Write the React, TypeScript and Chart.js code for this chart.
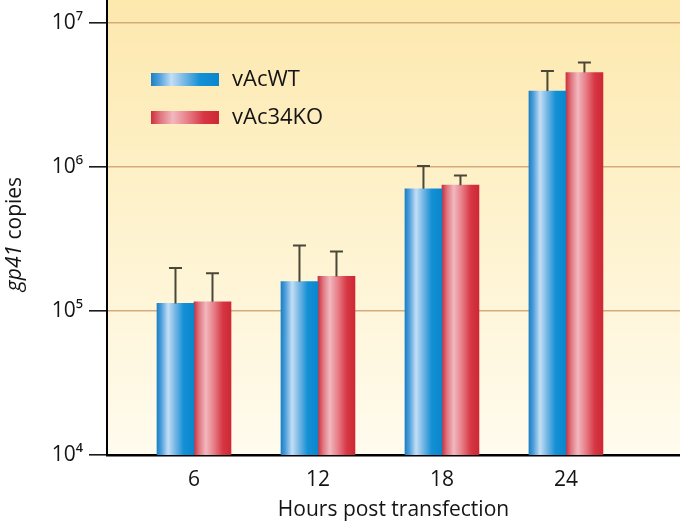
import React, { useEffect, useRef } from "react";
import { Chart, registerables } from "chart.js";

Chart.register(...registerables);

const hours = [6, 12, 18, 24];
const seriesLabels = ["vAcWT", "vAc34KO"];
const wtMean = [1.13e5, 1.6e5, 7.07e5, 3.38e6];
const wtUpper = [1.99e5, 2.86e5, 1.02e6, 4.65e6];
const koMean = [1.16e5, 1.74e5, 7.5e5, 4.54e6];
const koUpper = [1.83e5, 2.59e5, 8.74e5, 5.33e6];
const yTickValues = [1e4, 1e5, 1e6, 1e7];
const xTitle = "Hours post transfection";
const yTitleItalic = "gp41";
const yTitleRest = " copies";

const FONT = "'Open Sans', 'Noto Sans', sans-serif";
const BAR_W = 37;
const SUP: Record<string, string> = { "4": "\u2074", "5": "\u2075", "6": "\u2076", "7": "\u2077" };

const blueStops: [number, string][] = [
  [0, "#1b7fc5"],
  [0.12, "#4f9fdb"],
  [0.3, "#c3def5"],
  [0.5, "#72b5e4"],
  [0.72, "#1490d5"],
  [1, "#0a86cd"],
];
const redStops: [number, string][] = [
  [0, "#cf2e3b"],
  [0.14, "#df7680"],
  [0.32, "#f2b8be"],
  [0.52, "#e8838c"],
  [0.78, "#d73644"],
  [1, "#cd2834"],
];

function hGrad(ctx: CanvasRenderingContext2D, x0: number, w: number, stops: [number, string][]) {
  const g = ctx.createLinearGradient(x0, 0, x0 + w, 0);
  stops.forEach(([o, c]) => g.addColorStop(o, c));
  return g;
}

function barColor(stops: [number, string][], side: number) {
  return (c: any) => {
    if (c.type !== "data" || !c.chart.chartArea) return stops[2][1];
    const xs = c.chart.scales.x;
    const px = xs.getPixelForValue(c.raw.x);
    const left = side === 0 ? px - BAR_W : px;
    return hGrad(c.chart.ctx, left, BAR_W, stops);
  };
}

const bgPlugin = {
  id: "bgPlugin",
  beforeDraw(chart: any) {
    const { ctx, chartArea: a } = chart;
    const g = ctx.createLinearGradient(0, a.top, 0, a.bottom);
    g.addColorStop(0, "#fde8ad");
    g.addColorStop(0.5, "#fef3cf");
    g.addColorStop(1, "#fffbee");
    ctx.save();
    ctx.fillStyle = g;
    ctx.fillRect(a.left, a.top, a.right - a.left, a.bottom - a.top);
    ctx.restore();
  },
};

const errPlugin = {
  id: "errPlugin",
  afterDatasetsDraw(chart: any) {
    const { ctx } = chart;
    const ys = chart.scales.y;
    const uppers = [wtUpper, koUpper];
    ctx.save();
    ctx.strokeStyle = "#4a4739";
    ctx.lineWidth = 2;
    [0, 1].forEach((d) => {
      const meta = chart.getDatasetMeta(d);
      meta.data.forEach((el: any, i: number) => {
        const top = ys.getPixelForValue(uppers[d][i]);
        ctx.beginPath();
        ctx.moveTo(el.x, el.y);
        ctx.lineTo(el.x, top);
        ctx.moveTo(el.x - 6.5, top);
        ctx.lineTo(el.x + 6.5, top);
        ctx.stroke();
      });
    });
    ctx.restore();
  },
};

const legendPlugin = {
  id: "legendPlugin",
  afterDraw(chart: any) {
    const { ctx, chartArea: a } = chart;
    const x = a.left + 44;
    const rows = [
      { y: 73, stops: blueStops, label: seriesLabels[0] },
      { y: 111, stops: redStops, label: seriesLabels[1] },
    ];
    ctx.save();
    rows.forEach((r) => {
      ctx.fillStyle = hGrad(ctx, x, 68, r.stops);
      ctx.fillRect(x, r.y, 68, 13);
      ctx.fillStyle = "#141414";
      ctx.font = `22px ${FONT}`;
      ctx.textBaseline = "middle";
      ctx.textAlign = "left";
      ctx.fillText(r.label, x + 81, r.y + 6.5);
    });
    ctx.restore();
  },
};

const yTitlePlugin = {
  id: "yTitlePlugin",
  afterDraw(chart: any) {
    const { ctx, chartArea: a } = chart;
    ctx.save();
    ctx.translate(15, 234);
    ctx.rotate(-Math.PI / 2);
    ctx.textBaseline = "middle";
    ctx.textAlign = "left";
    ctx.fillStyle = "#141414";
    ctx.font = `italic 21px ${FONT}`;
    const w1 = ctx.measureText(yTitleItalic).width;
    ctx.font = `21px ${FONT}`;
    const w2 = ctx.measureText(yTitleRest).width;
    const start = -(w1 + w2) / 2;
    ctx.font = `italic 21px ${FONT}`;
    ctx.fillText(yTitleItalic, start, 0);
    ctx.font = `21px ${FONT}`;
    ctx.fillText(yTitleRest, start + w1, 0);
    ctx.restore();
  },
};

export default function App() {
  const ref = useRef<HTMLCanvasElement | null>(null);
  useEffect(() => {
    if (!ref.current) return;
    const chart = new Chart(ref.current, {
      type: "bar",
      data: {
        datasets: [
          {
            label: seriesLabels[0],
            data: hours.map((h, i) => ({ x: h, y: wtMean[i] })),
            backgroundColor: barColor(blueStops, 0),
            borderWidth: 0,
            barThickness: BAR_W,
          },
          {
            label: seriesLabels[1],
            data: hours.map((h, i) => ({ x: h, y: koMean[i] })),
            backgroundColor: barColor(redStops, 1),
            borderWidth: 0,
            barThickness: BAR_W,
          },
        ],
      },
      options: {
        animation: false,
        responsive: true,
        maintainAspectRatio: false,
        layout: { padding: { top: 0, right: 0, left: 0, bottom: 0 } },
        plugins: {
          legend: { display: false },
          tooltip: { enabled: false },
        },
        scales: {
          x: {
            type: "linear",
            offset: false,
            min: 1.79,
            max: 29.52,
            afterBuildTicks: (s: any) => {
              s.ticks = hours.map((v) => ({ value: v }));
            },
            afterFit: (s: any) => {
              s.height = 68;
              s.paddingLeft = 0;
              s.paddingRight = 0;
            },
            grid: { display: false, offset: false },
            border: { display: true, color: "#000", width: 2.5 },
            ticks: {
              padding: 4,
              color: "#141414",
              font: { family: FONT, size: 21 },
              autoSkip: false,
              maxRotation: 0,
            },
            title: {
              display: true,
              text: xTitle,
              color: "#141414",
              font: { family: FONT, size: 21 },
              padding: { top: 0, bottom: 0 },
            },
          },
          y: {
            type: "logarithmic",
            min: 1e4,
            max: 1.45e7,
            afterBuildTicks: (s: any) => {
              s.ticks = yTickValues.map((v) => ({ value: v }));
            },
            afterFit: (s: any) => {
              s.width = 107;
              s.paddingTop = 0;
              s.paddingBottom = 0;
            },
            grid: {
              color: (c: any) => (c.tick && c.tick.value === 1e4 ? "rgba(0,0,0,0)" : "#d6ab7c"),
              lineWidth: 1.6,
              tickColor: "#1a1a1a",
              tickLength: 18,
              drawTicks: true,
            },
            border: { display: true, color: "#000", width: 2 },
            ticks: {
              padding: 6,
              color: "#141414",
              font: { family: FONT, size: 21 },
              callback: (v: any) => {
                const e = String(Math.round(Math.log10(Number(v))));
                return "10" + (SUP[e] || e);
              },
            },
          },
        },
      },
      plugins: [bgPlugin, errPlugin, legendPlugin, yTitlePlugin],
    } as any);
    return () => chart.destroy();
  }, []);
  return (
    <div style={{ position: "absolute", left: 0, top: 0, width: 680, height: 523 }}>
      <canvas ref={ref} />
    </div>
  );
}
